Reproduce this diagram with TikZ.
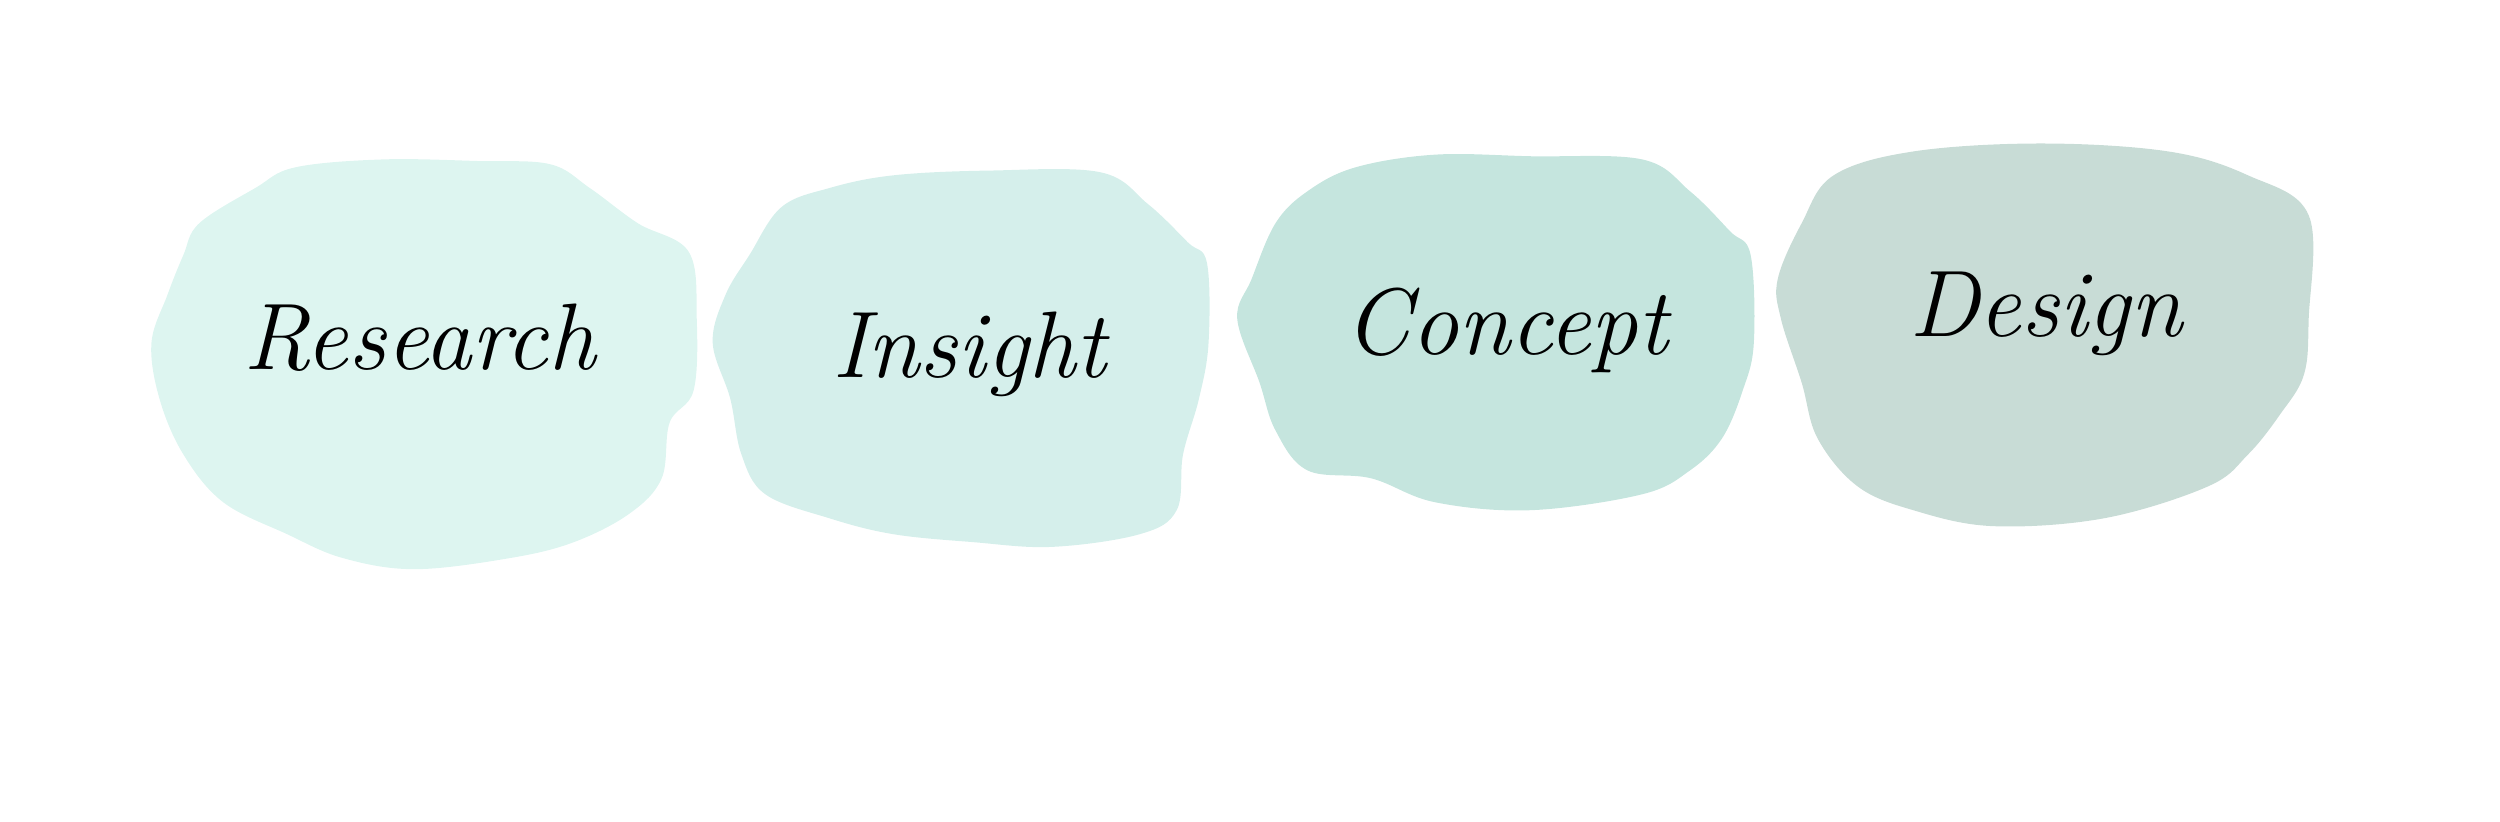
\documentclass[tikz,border=0pt]{standalone}
\usepackage{tikz}
\usetikzlibrary{positioning}

\definecolor{mintA}{RGB}{221,245,240}
\definecolor{mintB}{RGB}{213,239,235}
\definecolor{mintC}{RGB}{197,229,222}
\definecolor{mintD}{RGB}{200,220,214}

\begin{document}
\begin{tikzpicture}[x=0.016cm,y=-0.016cm,
	blob/.style={draw=none},
	word/.style={font=\fontsize{27}{30}\selectfont\itshape,inner sep=0pt,text=black}]
	\useasboundingbox (0,0) rectangle (1568,515);
	
	\fill[blob,mintA] plot[smooth cycle,tension=0.6] coordinates {(160,118) (185,105) (240,100) (300,101) (345,103) (370,118) (400,140) (432,158) (437,200) (435,245) (420,265) (415,300) (395,322) (360,340) (320,350) (260,357) (215,350) (180,335) (140,315) (115,285) (100,250) (95,215) (105,185) (115,160) (125,140)};
	\fill[blob,mintB] plot[smooth cycle,tension=0.6] coordinates {(490,130) (520,118) (560,110) (620,107) (690,108) (720,128) (745,152) (757,165) (758,215) (752,250) (742,285) (738,320) (715,335) (660,343) (610,340) (560,335) (520,325) (480,310) (465,285) (458,250) (447,215) (455,185) (470,160)};
	\fill[blob,mintC] plot[smooth cycle,tension=0.6] coordinates {(820,120) (850,105) (900,97) (960,98) (1030,100) (1060,120) (1085,145) (1098,160) (1100,215) (1093,245) (1080,275) (1060,295) (1030,310) (960,320) (900,315) (860,300) (820,295) (800,270) (790,240) (776,200) (785,175) (800,140)};
	\fill[blob,mintD] plot[smooth cycle,tension=0.6] coordinates {(1150,110) (1200,95) (1280,90) (1360,95) (1410,110) (1448,135) (1448,200) (1445,235) (1430,260) (1410,285) (1385,305) (1320,325) (1250,330) (1200,320) (1165,305) (1140,275) (1130,240) (1117,200) (1115,175) (1130,140)};
	
	\node[word] (research) at (263,212) {Research};
	\node[word] (insight) at (608,222) {Insight};
	\node[word] (concept) at (945,207) {Concept};
	\node[word] (design) at (1283,197) {Design};
\end{tikzpicture}
\end{document}
